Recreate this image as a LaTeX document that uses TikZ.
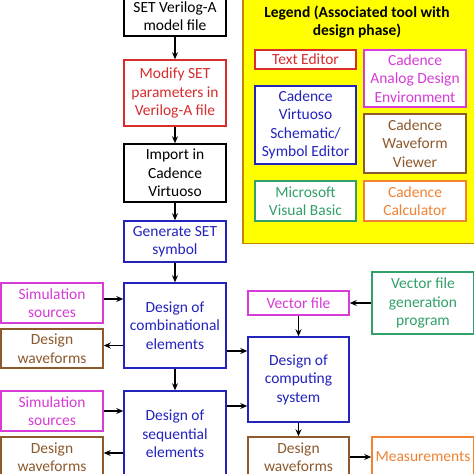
\documentclass[tikz,border=0pt]{standalone}
\usepackage{fontspec}
\setmainfont{Carlito}
\usetikzlibrary{arrows.meta,calc}
\definecolor{cred}{RGB}{215,45,45}
\definecolor{cmag}{RGB}{215,60,215}
\definecolor{cblue}{RGB}{35,35,190}
\definecolor{cbrown}{RGB}{140,90,45}
\definecolor{cgreen}{RGB}{50,160,105}
\definecolor{corange}{RGB}{240,130,50}
\definecolor{lgborder}{RGB}{195,135,0}
\definecolor{lgfill}{RGB}{255,255,0}
\tikzset{
  box/.style={draw, line width=1.5pt, fill=white, minimum width=102pt, inner sep=1pt, align=center, font=\fontsize{15.5}{18.5}\selectfont},
  arr/.style={-{Stealth[length=7pt,width=6pt]}, line width=1.2pt, black},
}
\begin{document}
\begin{tikzpicture}[x=1pt,y=-1pt]
\useasboundingbox (0,0) rectangle (474,474);
\clip (0,0) rectangle (474,474);
% legend
\node[draw=lgborder, fill=lgfill, line width=1.5pt, minimum width=234pt, minimum height=247pt, inner sep=0pt] (legend) at (360,120) {};
\node[font=\fontsize{15.5}{18.5}\selectfont\bfseries, align=center, inner sep=0pt] (lgtitle) at (357,22) {Legend (Associated tool with\\design phase)};
\node[box, draw=cred, text=cred, minimum width=101pt, minimum height=19pt] (lte) at (305.5,59.5) {Text Editor};
\node[box, draw=cmag, text=cmag, minimum height=57pt] (lade) at (415,78.5) {Cadence\\Analog Design\\Environment};
\node[box, draw=cblue, text=cblue, minimum width=101pt, minimum height=78pt] (lvs) at (305.5,125) {Cadence\\Virtuoso\\Schematic/\\Symbol Editor};
\node[box, draw=cbrown, text=cbrown, minimum height=59pt] (lwv) at (415,143.5) {Cadence\\Waveform\\Viewer};
\node[box, draw=cgreen, text=cgreen, minimum width=101pt, minimum height=40pt] (lvb) at (305.5,201) {Microsoft\\Visual Basic};
\node[box, draw=corange, text=corange, minimum height=40pt] (lcalc) at (415,201) {Cadence\\Calculator};
% main column
\node[box, minimum height=40pt] (model) at (175,16) {SET Verilog-A\\model file};
\node[box, draw=cred, text=cred, minimum height=66pt] (modify) at (175,93) {Modify SET\\parameters in\\Verilog-A file};
\node[box, minimum height=58pt] (import) at (175,173) {Import in\\Cadence\\Virtuoso};
\node[box, draw=cblue, text=cblue, minimum height=41pt] (gen) at (175,241.5) {Generate SET\\symbol};
\node[box, draw=cblue, text=cblue, minimum height=85pt] (comb) at (175,325.5) {Design of\\combinational\\elements};
\node[box, draw=cblue, text=cblue, minimum height=86pt] (seq) at (175,434) {Design of\\sequential\\elements};
% left column
\node[box, draw=cmag, text=cmag, minimum height=40pt] (sim1) at (52,303) {Simulation\\sources};
\node[box, draw=cbrown, text=cbrown, minimum height=39pt] (wave1) at (52,348.5) {Design\\waveforms};
\node[box, draw=cmag, text=cmag, minimum height=40pt] (sim2) at (52,411) {Simulation\\sources};
\node[box, draw=cbrown, text=cbrown, minimum height=40pt] (wave2) at (52,457) {Design\\waveforms};
% right column
\node[box, draw=cmag, text=cmag, minimum width=101pt, minimum height=24pt] (vec) at (298.5,303) {Vector file};
\node[box, draw=cgreen, text=cgreen, minimum height=62pt] (vgen) at (423,303) {Vector file\\generation\\program};
\node[box, draw=cblue, text=cblue, minimum width=101pt, minimum height=85pt] (comp) at (298.5,379.5) {Design of\\computing\\system};
\node[box, draw=cbrown, text=cbrown, minimum width=101pt, minimum height=40pt] (wave3) at (298.5,457) {Design\\waveforms};
\node[box, draw=corange, text=corange, minimum height=40pt] (meas) at (423,457) {Measurements};
% connectors
\draw[arr] (model) -- (modify);
\draw[arr] (modify) -- (import);
\draw[arr] (import) -- (gen);
\draw[arr] (gen) -- (comb);
\draw[arr] (comb) -- (seq);
\draw[arr] ([yshift=4pt]sim1.east) -- ([yshift=4pt]sim1.east -| comb.west);
\draw[arr] ([yshift=3pt]comb.west |- wave1.east) -- ([yshift=3pt]wave1.east);
\draw[arr] (sim2.east) -- (sim2.east -| seq.west);
\draw[arr] ([yshift=4pt]seq.west |- wave2.east) -- ([yshift=4pt]wave2.east);
\draw[arr] ([yshift=-25.5pt]comb.east) -- ([yshift=-25.5pt]comb.east -| comp.west);
\draw[arr] ([yshift=28pt]seq.east) -- ([yshift=28pt]seq.east -| comp.west);
\draw[arr] (vgen) -- (vec);
\draw[arr] (vec) -- (comp);
\draw[arr] (comp) -- (wave3);
\draw[arr] (wave3) -- (meas);
\end{tikzpicture}
\end{document}
